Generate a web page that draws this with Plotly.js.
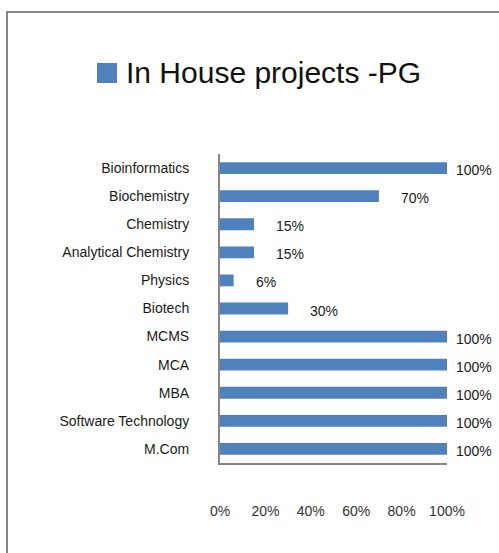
<!DOCTYPE html>
<html>
<head>
<meta charset="utf-8">
<script src="https://cdn.plot.ly/plotly-3.0.1.min.js"></script>
<style>
  html, body { margin: 0; padding: 0; background: #fff; overflow: hidden; }
  #wrap { position: relative; width: 499px; height: 553px; }
  #chart { position: absolute; left: 0; top: 0; width: 499px; height: 553px; }
  #frame { position: absolute; left: 6px; top: 11px; width: 520px; height: 580px;
           border: 2px solid #868686; pointer-events: none; box-sizing: border-box; }
</style>
</head>
<body>
<div id="wrap">
  <div id="chart"></div>
  <div id="frame"></div>
</div>
<script>
const seriesName = "In House projects -PG";
const categories = ["Bioinformatics", "Biochemistry", "Chemistry", "Analytical Chemistry",
  "Physics", "Biotech", "MCMS", "MCA", "MBA", "Software Technology", "M.Com"];
const values = [100, 70, 15, 15, 6, 30, 100, 100, 100, 100, 100];
const tickValues = [0, 20, 40, 60, 80, 100];
const tickLabels = ["0%", "20%", "40%", "60%", "80%", "100%"];

const barColor = "#4F81BD";
const fontFam = "Liberation Sans, Arial, sans-serif";

const trace = {
  type: "bar",
  orientation: "h",
  y: categories,
  x: values,
  name: seriesName,
  marker: { color: barColor },
  showlegend: false,
  hoverinfo: "x+y"
};

const annotations = categories.map((c, i) => ({
  x: values[i], y: c, xref: "x", yref: "y",
  text: values[i] + "%",
  showarrow: false, xanchor: "left", yanchor: "middle",
  xshift: values[i] >= 100 ? 7 : 20, yshift: -2,
  font: { family: fontFam, size: 14, color: "#1a1a1a" }
}));
annotations.push({
  x: 0, y: 0, xref: "paper", yref: "paper", text: seriesName,
  showarrow: false, xanchor: "left", yanchor: "middle",
  font: { family: fontFam, size: 30, color: "#111" }
});

const layout = {
  width: 499, height: 553,
  margin: { l: 220, r: 52, t: 154, b: 90, pad: 0 },
  paper_bgcolor: "#fff", plot_bgcolor: "#fff",
  bargap: 0.58,
  xaxis: {
    range: [0, 100], tickvals: tickValues, ticktext: tickLabels,
    showgrid: false, zeroline: false, showline: true, linecolor: "#868686", linewidth: 2,
    ticks: "", ticklabelstandoff: 34,
    tickfont: { family: fontFam, size: 14, color: "#333" }, fixedrange: true
  },
  yaxis: {
    type: "category", autorange: "reversed",
    showgrid: false, zeroline: false, showline: true, linecolor: "#868686", linewidth: 2,
    ticks: "", ticklabelstandoff: 26,
    tickfont: { family: fontFam, size: 14, color: "#1a1a1a" }, fixedrange: true
  },
  annotations: annotations,
  shapes: [{
    type: "rect", xref: "paper", yref: "paper",
    x0: (97 - 220) / 227, x1: (117 - 220) / 227,
    y0: (553 - 90 - 83) / 309, y1: (553 - 90 - 63) / 309,
    fillcolor: barColor, line: { width: 0 }
  }]
};

// legend text position (pixel -> paper)
const legendAnn = annotations[annotations.length - 1];
legendAnn.x = (124 - 220) / 227;
legendAnn.y = (553 - 90 - 72) / 309;

Plotly.newPlot("chart", [trace], layout, { displayModeBar: false, staticPlot: true });
</script>
</body>
</html>
